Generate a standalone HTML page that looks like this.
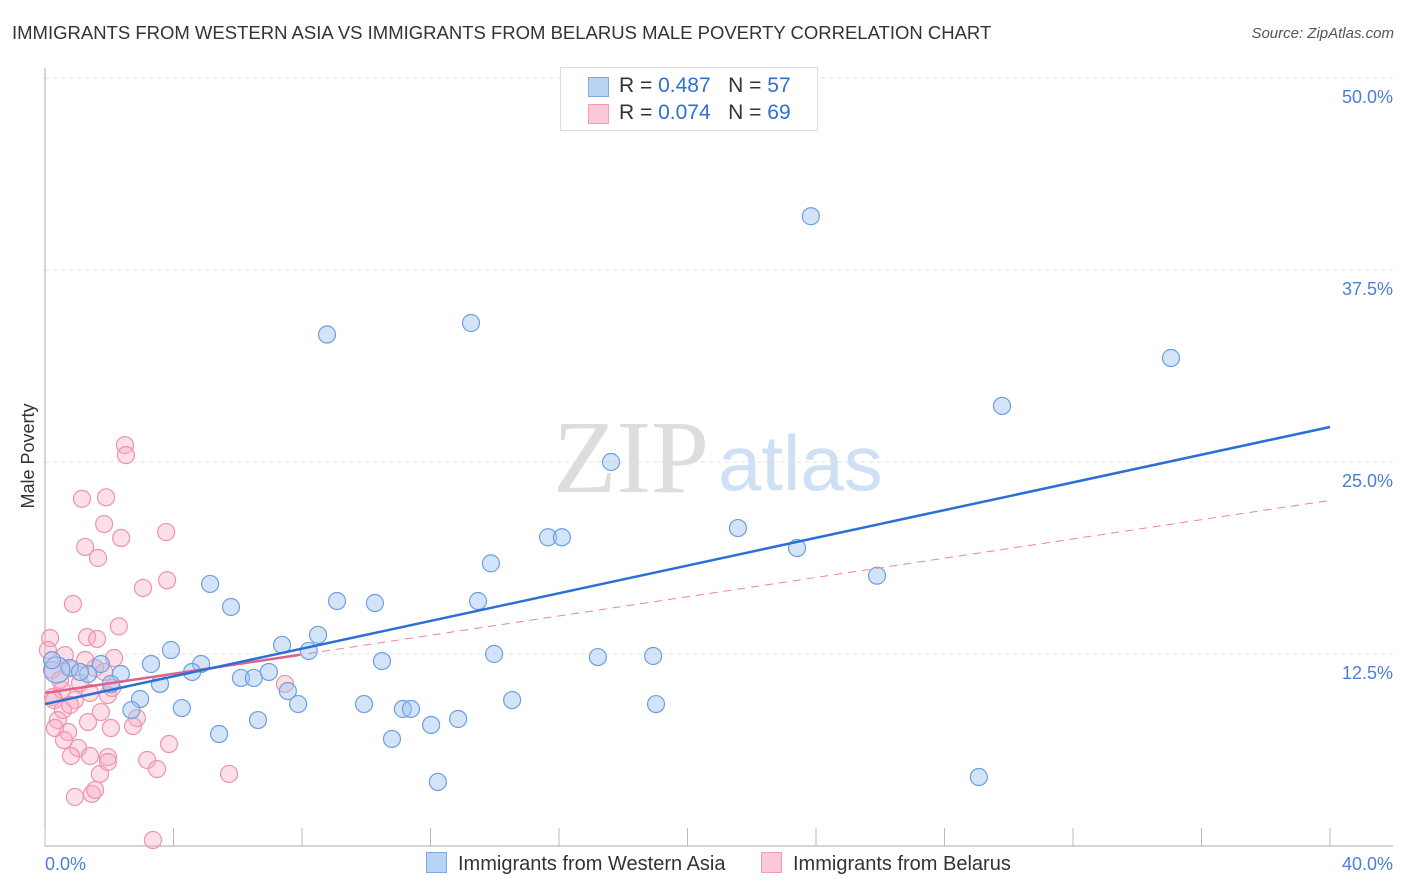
<!DOCTYPE html>
<html><head><meta charset="utf-8"><style>
body{margin:0;background:#fff;font-family:"Liberation Sans",sans-serif;}
#wrap{position:relative;width:1406px;height:892px;overflow:hidden;}
.t{position:absolute;white-space:nowrap;}
</style></head><body>
<div id="wrap">
<div class="t" style="left:12px;top:22px;font-size:18.5px;color:#333;">IMMIGRANTS FROM WESTERN ASIA VS IMMIGRANTS FROM BELARUS MALE POVERTY CORRELATION CHART</div>
<div class="t" style="right:12px;top:25px;font-size:15px;color:#555;font-style:italic;">Source: ZipAtlas.com</div>
<svg id="svg" width="1406" height="892" style="position:absolute;left:0;top:0"></svg>
</div>
<script>
const xTicks=[0,4,8,12,16,20,24,28,32,36,40];
const yTicks=[12.5,25,37.5,50];
const yTickLabels=["12.5%","25.0%","37.5%","50.0%"];
const blueX=[23.84,8.78,13.26,35.05,29.79,17.62,21.57,15.66,16.09,23.41,13.88,25.9,5.14,5.79,9.09,10.27,13.48,8.5,7.38,8.21,3.92,3.3,4.86,4.58,6.1,6.5,6.97,10.49,13.98,17.21,18.93,7.56,7.88,9.93,11.14,11.39,14.54,19.02,12.86,12.02,10.8,6.63,5.42,4.26,3.58,2.96,2.69,2.36,2.05,1.74,1.34,0.78,0.37,0.22,12.23,29.07,1.09];
const blueY=[41.0,33.3,34.05,31.77,28.65,25.0,20.7,20.1,20.1,19.4,18.4,17.6,17.06,15.56,15.95,15.82,15.95,13.74,13.09,12.7,12.76,11.85,11.85,11.33,10.94,10.94,11.33,12.04,12.5,12.3,12.37,10.09,9.24,9.24,8.92,8.92,9.5,9.24,8.27,7.88,6.97,8.2,7.29,8.98,10.55,9.57,8.85,11.2,10.55,11.85,11.2,11.59,11.46,12.1,4.17,4.49,11.33];
const pinkX=[2.49,2.52,1.15,1.9,1.84,2.37,3.77,1.25,1.65,3.8,3.05,0.87,2.3,0.16,1.31,1.62,2.15,0.09,0.62,0.75,1.56,1.09,0.53,0.25,0.93,1.4,1.96,2.09,1.74,1.34,0.56,0.4,0.31,0.72,1.03,0.81,1.4,1.71,2.05,1.96,1.96,1.46,1.56,0.93,2.86,2.74,3.18,3.49,3.86,3.36,5.73,7.47,0.22,0.47,1.25,1.84,0.59,0.28,0.78];
const pinkY=[26.1,25.45,22.6,22.7,20.96,20.05,20.44,19.47,18.75,17.3,16.8,15.76,14.3,13.54,13.6,13.48,12.24,12.76,12.43,11.59,11.59,10.61,10.16,9.7,9.5,9.96,9.83,10.29,8.72,8.07,8.85,8.2,7.68,7.42,6.38,5.86,5.86,4.69,7.68,5.79,5.47,3.39,3.65,3.19,8.33,7.81,5.6,5.01,6.64,0.39,4.69,10.55,11.46,10.81,12.11,11.33,6.9,9.5,9.18];
const blueTrend=[9.24,27.28];
const pinkTrend=[9.96,22.5];
const pinkSolidEnd=[7.94];

const X0=45,X1=1330,Y0=846,PX=15.36;
const sx=v=>X0+v/40*(X1-X0);
const sy=v=>Y0-v*PX;
const svg=document.getElementById('svg');
const NS='http://www.w3.org/2000/svg';
function mk(tag,attrs){const e=document.createElementNS(NS,tag);for(const k in attrs)e.setAttribute(k,attrs[k]);svg.appendChild(e);return e;}

yTicks.forEach((v,i)=>{
  const g=mk('line',{x1:X0,x2:1393,y1:sy(v),y2:sy(v),stroke:'#e2e2e2','stroke-dasharray':'4,4'});
  
  
  const t=mk('text',{x:1393,y:sy(v)+25,'text-anchor':'end','font-size':18,fill:'#4a7fd6','font-family':'Liberation Sans'});
  t.textContent=yTickLabels[i];
  
  
});
const ya=mk('line',{x1:X0,x2:X0,y1:68,y2:Y0,stroke:'#aaa'});


const xa=mk('line',{x1:X0,x2:1393,y1:Y0,y2:Y0,stroke:'#aaa'});


xTicks.forEach(v=>{
  const l=mk('line',{x1:sx(v),x2:sx(v),y1:828,y2:Y0,stroke:'#bbb'});
  
  
});
const xl0=mk('text',{x:45,y:870,'font-size':18,fill:'#4a7fd6','font-family':'Liberation Sans'});xl0.textContent='0.0%';


const xl1=mk('text',{x:1393,y:870,'text-anchor':'end','font-size':18,fill:'#4a7fd6','font-family':'Liberation Sans'});xl1.textContent='40.0%';


const yt=mk('text',{x:34,y:456,'text-anchor':'middle','font-size':18,fill:'#333','font-family':'Liberation Sans',transform:'rotate(-90 34 456)'});yt.textContent='Male Poverty';


const w1=mk('text',{x:553,y:492,'font-size':104,fill:'#ddd','font-family':'Liberation Serif'});w1.textContent='ZIP';


const w2=mk('text',{x:718,y:490,'font-size':78,fill:'#cfe0f5','font-family':'Liberation Sans'});w2.textContent='atlas';


pinkX.forEach((v,i)=>{
  const c=mk('circle',{cx:sx(v),cy:sy(pinkY[i]),r:8.5,fill:'rgba(246,170,192,0.38)',stroke:'#ee93ad','stroke-width':1.2});
  
  
});
blueX.forEach((v,i)=>{
  const c=mk('circle',{cx:sx(v),cy:sy(blueY[i]),r:(i==52?13:8.5),fill:'rgba(160,196,240,0.45)',stroke:'#6c9fe0','stroke-width':1.2});
  
  
});
const pd=mk('line',{x1:sx(0),y1:sy(pinkTrend[0]),x2:sx(40),y2:sy(pinkTrend[1]),stroke:'#e9849f','stroke-width':1,'stroke-dasharray':'8,6'});


const pe=pinkTrend[0]+(pinkTrend[1]-pinkTrend[0])*pinkSolidEnd[0]/40;
const ps=mk('line',{x1:sx(0),y1:sy(pinkTrend[0]),x2:sx(pinkSolidEnd[0]),y2:sy(pe),stroke:'#e0628a','stroke-width':2.5});


const bt=mk('line',{x1:sx(0),y1:sy(blueTrend[0]),x2:sx(40),y2:sy(blueTrend[1]),stroke:'#2a6fd6','stroke-width':2.5});


</script>
<div style="position:absolute;left:560px;top:67px;width:256px;height:62px;border:1px solid #ddd;background:#fff;font-size:21px;color:#333;">
 <div style="position:absolute;left:27px;top:9px;width:19px;height:18px;background:#b9d3f5;border:1px solid #7ea9e3;"></div>
 <div class="t" style="left:58px;top:6px;">R = <span style="color:#2f6fd6">0.487</span>&nbsp;&nbsp;&nbsp;N = <span style="color:#2f6fd6">57</span></div>
 <div style="position:absolute;left:27px;top:36px;width:19px;height:18px;background:#fbc9d7;border:1px solid #ee9fb6;"></div>
 <div class="t" style="left:58px;top:33px;">R = <span style="color:#2f6fd6">0.074</span>&nbsp;&nbsp;&nbsp;N = <span style="color:#2f6fd6">69</span></div>
</div>
<div style="position:absolute;left:426px;top:852px;font-size:20px;color:#333;">
 <span style="position:absolute;left:0;top:0;white-space:nowrap;"><span style="display:inline-block;width:19px;height:19px;background:#b9d3f5;border:1px solid #7ea9e3;vertical-align:-3px;margin-right:11px;"></span>Immigrants from Western Asia</span>
 <span style="position:absolute;left:335px;top:0;white-space:nowrap;"><span style="display:inline-block;width:19px;height:19px;background:#fbc9d7;border:1px solid #ee9fb6;vertical-align:-3px;margin-right:11px;"></span>Immigrants from Belarus</span>
</div>
</body></html>
